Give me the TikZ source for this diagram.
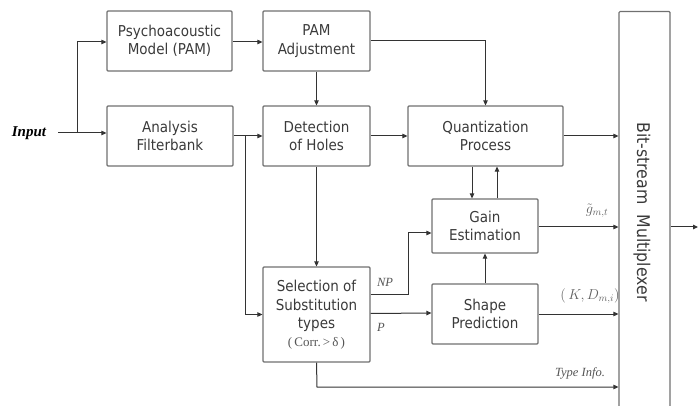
\documentclass[tikz,border=0pt]{standalone}
\usepackage{fontspec}
\setmainfont{Liberation Serif}
\newfontfamily\boxfont{DejaVu Sans Condensed}
\usetikzlibrary{arrows.meta}
\definecolor{boxgray}{HTML}{707070}
\definecolor{linegray}{HTML}{333333}
\definecolor{textgray}{HTML}{3A3A3A}
\definecolor{labgray}{HTML}{555555}
\definecolor{mathgray}{HTML}{606060}
\begin{document}
\begin{tikzpicture}[x=1pt,y=-1pt,
  blk/.style={draw=boxgray, line width=1.2pt, rounded corners=1pt, align=center,
    font=\boxfont\fontsize{15}{18.5}\selectfont, text=textgray, inner sep=0pt},
  arr/.style={draw=linegray, line width=1pt, -{Triangle[length=5pt,width=4.5pt]}},
  lab/.style={font=\itshape\fontsize{12.5}{14}\selectfont, text=labgray, inner sep=0pt},
  mlab/.style={font=\fontsize{14}{16}\selectfont, text=mathgray, inner sep=0pt}]
\useasboundingbox (0,0) rectangle (699,406);

% blocks
\node[blk, minimum width=125pt, minimum height=60pt] (pam) at (169.5,41) {Psychoacoustic\\Model (PAM)};
\node[blk, minimum width=107pt, minimum height=60pt] (adj) at (316.5,41) {PAM\\Adjustment};
\node[blk, minimum width=126pt, minimum height=60pt] (afb) at (170,136) {Analysis\\Filterbank};
\node[blk, minimum width=107pt, minimum height=60pt] (det) at (316.5,136) {Detection\\of Holes};
\node[blk, minimum width=155pt, minimum height=60pt] (qua) at (485.5,136) {Quantization\\Process};
\node[blk, minimum width=106pt, minimum height=54pt] (gain) at (485,226) {Gain\\Estimation};
\node[blk, minimum width=106pt, minimum height=60pt] (shp) at (485,314) {Shape\\Prediction};
\node[blk, minimum width=107pt, minimum height=95pt] (sel) at (316.5,314.5)
  {Selection of\\Substitution\\types\\[-1pt]{\rmfamily\fontsize{13}{15}\selectfont\color{labgray}(\,Corr.\,>\,δ\,)}};
\node[blk, minimum width=51pt, minimum height=402pt, anchor=north] (mux) at (644.5,11) {};
\node[rotate=-90, font=\boxfont\fontsize{17.5}{20}\selectfont, text=textgray] (muxt) at (642,212) {Bit-stream\ \ Multiplexer};

% input
\node[font=\bfseries\itshape\fontsize{15}{18}\selectfont, text=black, inner sep=0pt] (in) at (29,133) {Input};
\coordinate (inend) at (58,133);
\coordinate (br1) at (77,133);
\coordinate (outend) at (698,227);

% connectors
\draw[arr] (inend) -- (inend -| afb.west);
\draw[arr] (br1) |- ([yshift=-1pt]pam.west);
\draw[arr] ([yshift=-1pt]pam.east) -- ([yshift=-1pt]adj.west);
\draw[arr] (adj.south) -- (det.north);
\draw[arr] (adj.east) -| (qua.north);
\draw[arr] (afb.east) -- (det.west);
\coordinate (br2) at (245,136);
\draw[arr] (br2) |- (sel.west);
\draw[arr] (det.south) -- (sel.north);
\draw[arr] (det.east) -- (qua.west);
\draw[arr] (qua.east) -- (qua.east -| mux.west);
\draw[arr] ([xshift=-13.5pt]qua.south) -- ([xshift=-13pt]gain.north);
\draw[arr] ([xshift=12pt]gain.north) -- ([xshift=11.5pt]qua.south);
\coordinate (npc) at (408,294);
\draw[arr] (sel.east |- npc) -- (npc) |- ([yshift=-7pt]gain.west);
\draw[arr] ([yshift=1pt]sel.east) -- ([yshift=1pt]shp.west);
\draw[arr] (shp.north) -- (gain.south);
\draw[arr] ([yshift=-1pt]gain.east) -- ([yshift=-1pt]gain.east -| mux.west);
\draw[arr] (shp.east) -- (shp.east -| mux.west);
\coordinate (tic) at (317,387);
\draw[arr] (sel.south) -- (tic) -- (tic -| mux.west);
\draw[arr] (mux.east |- outend) -- (outend);

% labels
\node[lab] (lnp) at (385,282) {NP};
\node[lab] (lp) at (381,327) {P};
\node[lab, font=\itshape\fontsize{12.5}{14}\selectfont] (lti) at (580,373) {Type Info.};
\node[mlab] (lg) at (597,211) {$\tilde{g}_{m,t}$};
\node[mlab] (lk) at (590,296) {$(\,K, D_{m,i})$};
\end{tikzpicture}
\end{document}
